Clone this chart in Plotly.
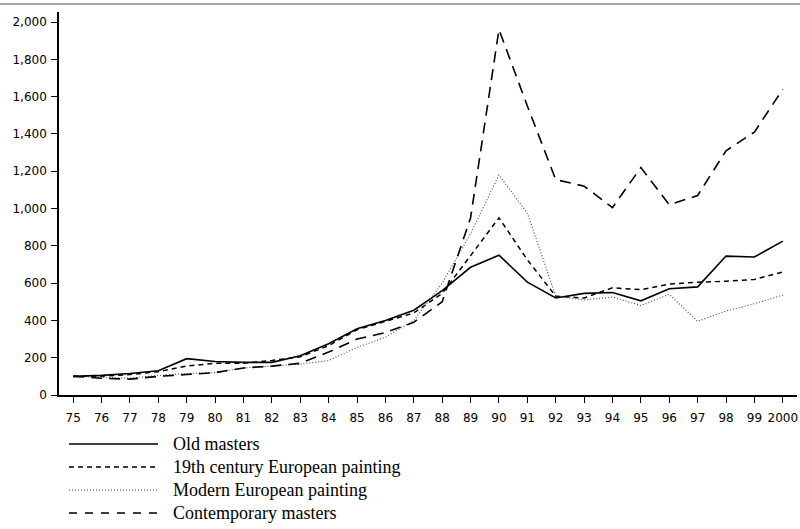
import plotly.graph_objects as go

years = ["75", "76", "77", "78", "79", "80", "81", "82", "83", "84", "85", "86", "87",
         "88", "89", "90", "91", "92", "93", "94", "95", "96", "97", "98", "99", "2000"]

old_masters = [100, 105, 115, 130, 195, 180, 175, 175, 210, 275, 355, 400, 455,
               560, 685, 750, 605, 520, 545, 550, 505, 570, 580, 745, 740, 825]
nineteenth = [100, 100, 110, 125, 155, 170, 170, 185, 205, 265, 350, 395, 440,
              545, 745, 950, 725, 530, 520, 575, 565, 595, 605, 610, 620, 660]
modern = [100, 95, 90, 105, 115, 120, 145, 155, 165, 185, 255, 310, 400,
          600, 865, 1180, 975, 530, 510, 525, 480, 540, 395, 450, 490, 535]
contemporary = [100, 90, 85, 100, 110, 120, 145, 155, 170, 230, 300, 335, 390,
                500, 950, 1960, 1550, 1155, 1120, 1005, 1220, 1020, 1070, 1310, 1410, 1640]

names = ["Old masters", "19th century European painting",
         "Modern European painting", "Contemporary masters"]
series = [old_masters, nineteenth, modern, contemporary]
styles = [dict(color="black", width=1.6, dash="solid"),
          dict(color="black", width=1.5, dash="5px,4px"),
          dict(color="#444444", width=1.1, dash="1px,2px"),
          dict(color="black", width=1.6, dash="11px,7px")]
legend_dash = ["solid", "5px,4px", "1px,2px", "8px,8px"]

x_idx = list(range(len(years)))

W, H = 800, 529
ML, MR, MT, MB = 59, 3, 12, 134
PW, PH = W - ML - MR, H - MT - MB


def px(x):
    return (x - ML) / PW


def py(y):
    return (H - MB - y) / PH


fig = go.Figure()
for name, vals, st in zip(names, series, styles):
    fig.add_trace(go.Scatter(x=x_idx, y=vals, mode="lines", name=name, line=st,
                             showlegend=False))

# manual legend below the chart
legend_rows = [444, 467, 490, 513]
for name, st, dsh, yy in zip(names, styles, legend_dash, legend_rows):
    fig.add_shape(type="line", xref="paper", yref="paper",
                  x0=px(69), x1=px(158), y0=py(yy), y1=py(yy),
                  line=dict(color=st["color"], width=st["width"], dash=dsh))
    fig.add_annotation(xref="paper", yref="paper", x=px(171), y=py(yy),
                       xanchor="left", yanchor="middle", text=name, showarrow=False,
                       font=dict(family="Liberation Serif, DejaVu Serif, serif",
                                 size=18, color="black"))

fig.update_layout(
    width=W, height=H,
    margin=dict(l=ML, r=MR, t=MT, b=MB),
    paper_bgcolor="white", plot_bgcolor="white",
    showlegend=False,
    font=dict(family="DejaVu Sans, sans-serif", size=12, color="black"),
)
fig.update_xaxes(range=[-0.5, 25.5], tickmode="array", tickvals=x_idx, ticktext=years,
                 showgrid=False, zeroline=False, showline=True, linecolor="black", linewidth=1.5,
                 ticks="outside", ticklen=6, tickcolor="black", tickfont=dict(size=12),
                 ticklabelstandoff=5, automargin=False)
fig.update_yaxes(range=[0, 2054], tickmode="array", tickvals=list(range(0, 2001, 200)),
                 tickformat=",", showgrid=False, zeroline=False, showline=True,
                 linecolor="black", linewidth=1.5, ticks="outside", ticklen=6,
                 tickcolor="black", tickfont=dict(size=12), ticklabelstandoff=2,
                 automargin=False)
fig.add_shape(type="line", xref="paper", yref="paper", x0=px(0), x1=px(800),
              y0=py(4), y1=py(4), line=dict(color="#888888", width=1.5))

fig.write_html("out.html", config={"displayModeBar": False},
               post_script="document.body.style.margin='0';document.body.style.overflow='hidden';")
